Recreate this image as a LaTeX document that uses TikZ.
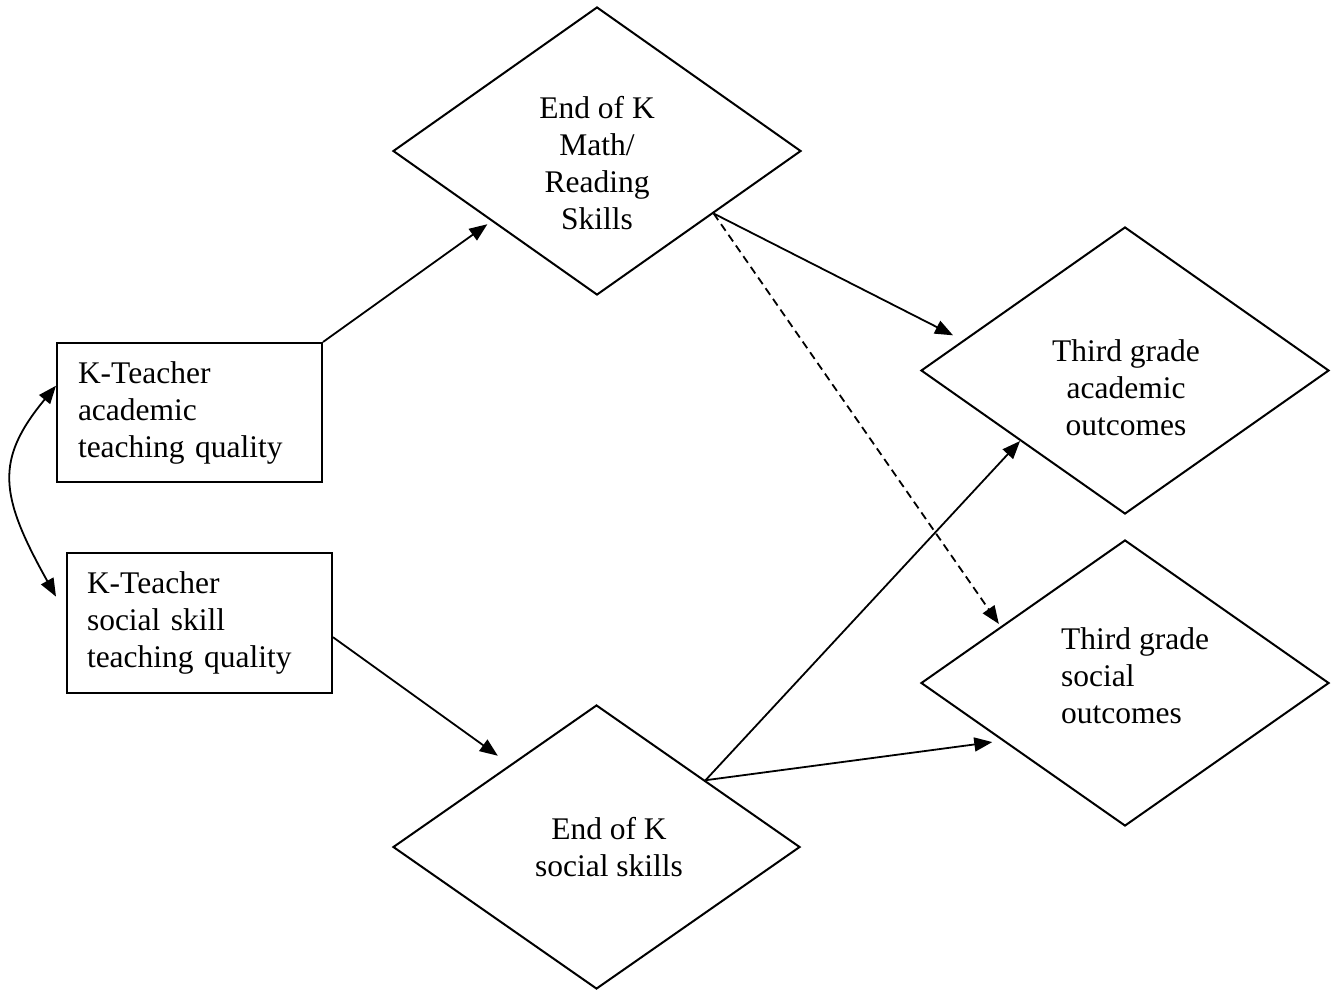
\documentclass[tikz,border=0pt]{standalone}
\usepackage{fontspec}
\setmainfont{Liberation Serif}
\usetikzlibrary{shapes.geometric,arrows.meta,calc}
\begin{document}
\begin{tikzpicture}[x=1pt,y=1pt,
  lbl/.style={inner sep=0pt,font=\fontsize{31.5}{37}\selectfont},
  rectbox/.style={draw,line width=2pt,rectangle,align=left,inner ysep=0pt,font=\fontsize{31.5}{37}\selectfont},
  dia/.style={draw,line width=2pt,diamond,inner sep=0pt},
  arr/.style={line width=1.8pt,-{Triangle[length=18pt,width=14pt]}},
  dasharr/.style={arr,dash pattern=on 8pt off 5pt},
  dblarr/.style={line width=1.8pt,{Triangle[length=18pt,width=14pt]}-{Triangle[length=18pt,width=14pt]}}
]
\fill[white] (0,0) rectangle (1339,-989);
\useasboundingbox (0,0) rectangle (1339,-989);

% boxes
\node[rectbox,text width=223pt,inner xsep=21pt,minimum height=139pt] (r1) at (189.5,-412.5)
  {K-Teacher\\academic\\teaching quality};
\node[rectbox,text width=225pt,inner xsep=20pt,minimum height=140pt] (r2) at (199.5,-623)
  {K-Teacher\\social skill\\teaching quality};

% diamonds
\node[dia,minimum width=408pt,minimum height=288pt] (dtop) at (597,-151) {};
\node[dia,minimum width=407pt,minimum height=284pt] (dbot) at (596.5,-847) {};
\node[dia,minimum width=408pt,minimum height=287pt] (d1) at (1125,-370.5) {};
\node[dia,minimum width=408pt,minimum height=286pt] (d2) at (1125,-683) {};

% diamond texts
\node[lbl,align=center] (ttop) at (597,-163) {End of K\\Math/\\Reading\\Skills};
\node[lbl,align=center] (tbot) at (609,-847) {End of K\\social skills};
\node[lbl,align=center] (t1) at (1126,-388) {Third grade\\academic\\outcomes};
\node[lbl,align=left,anchor=west] (t2) at (1061,-676) {Third grade\\social\\outcomes};

% connectors
\coordinate (ts) at ($(dtop.east)!0.431!(dtop.south)$);
\coordinate (bs) at ($(dbot.north)!0.533!(dbot.east)$);

\draw[arr,shorten >=5pt] (r1.north east) -- ($(dtop.west)!0.485!(dtop.south)$);
\draw[arr,shorten >=11pt] (ts) -- ($(d1.west)!0.209!(d1.north)$);
\draw[dasharr,shorten >=3pt] (ts) -- ($(d2.west)!0.393!(d2.north)$);
\draw[arr,shorten >=15pt] ($(r2.north east)!0.6!(r2.south east)$) -- ($(dbot.west)!0.577!(dbot.north)$);
\draw[arr] (bs) -- ($(d1.west)!0.488!(d1.south)$);
\draw[arr,shorten >=10pt] (bs) -- ($(d2.west)!0.401!(d2.south)$);

\draw[dblarr] ($(r1.north west)!0.31!(r1.south west)$)
  .. controls +(-61,-74) and +(-57,102) ..
  ($(r2.north west)!0.314!(r2.south west) + (-10,0)$);
\end{tikzpicture}
\end{document}
